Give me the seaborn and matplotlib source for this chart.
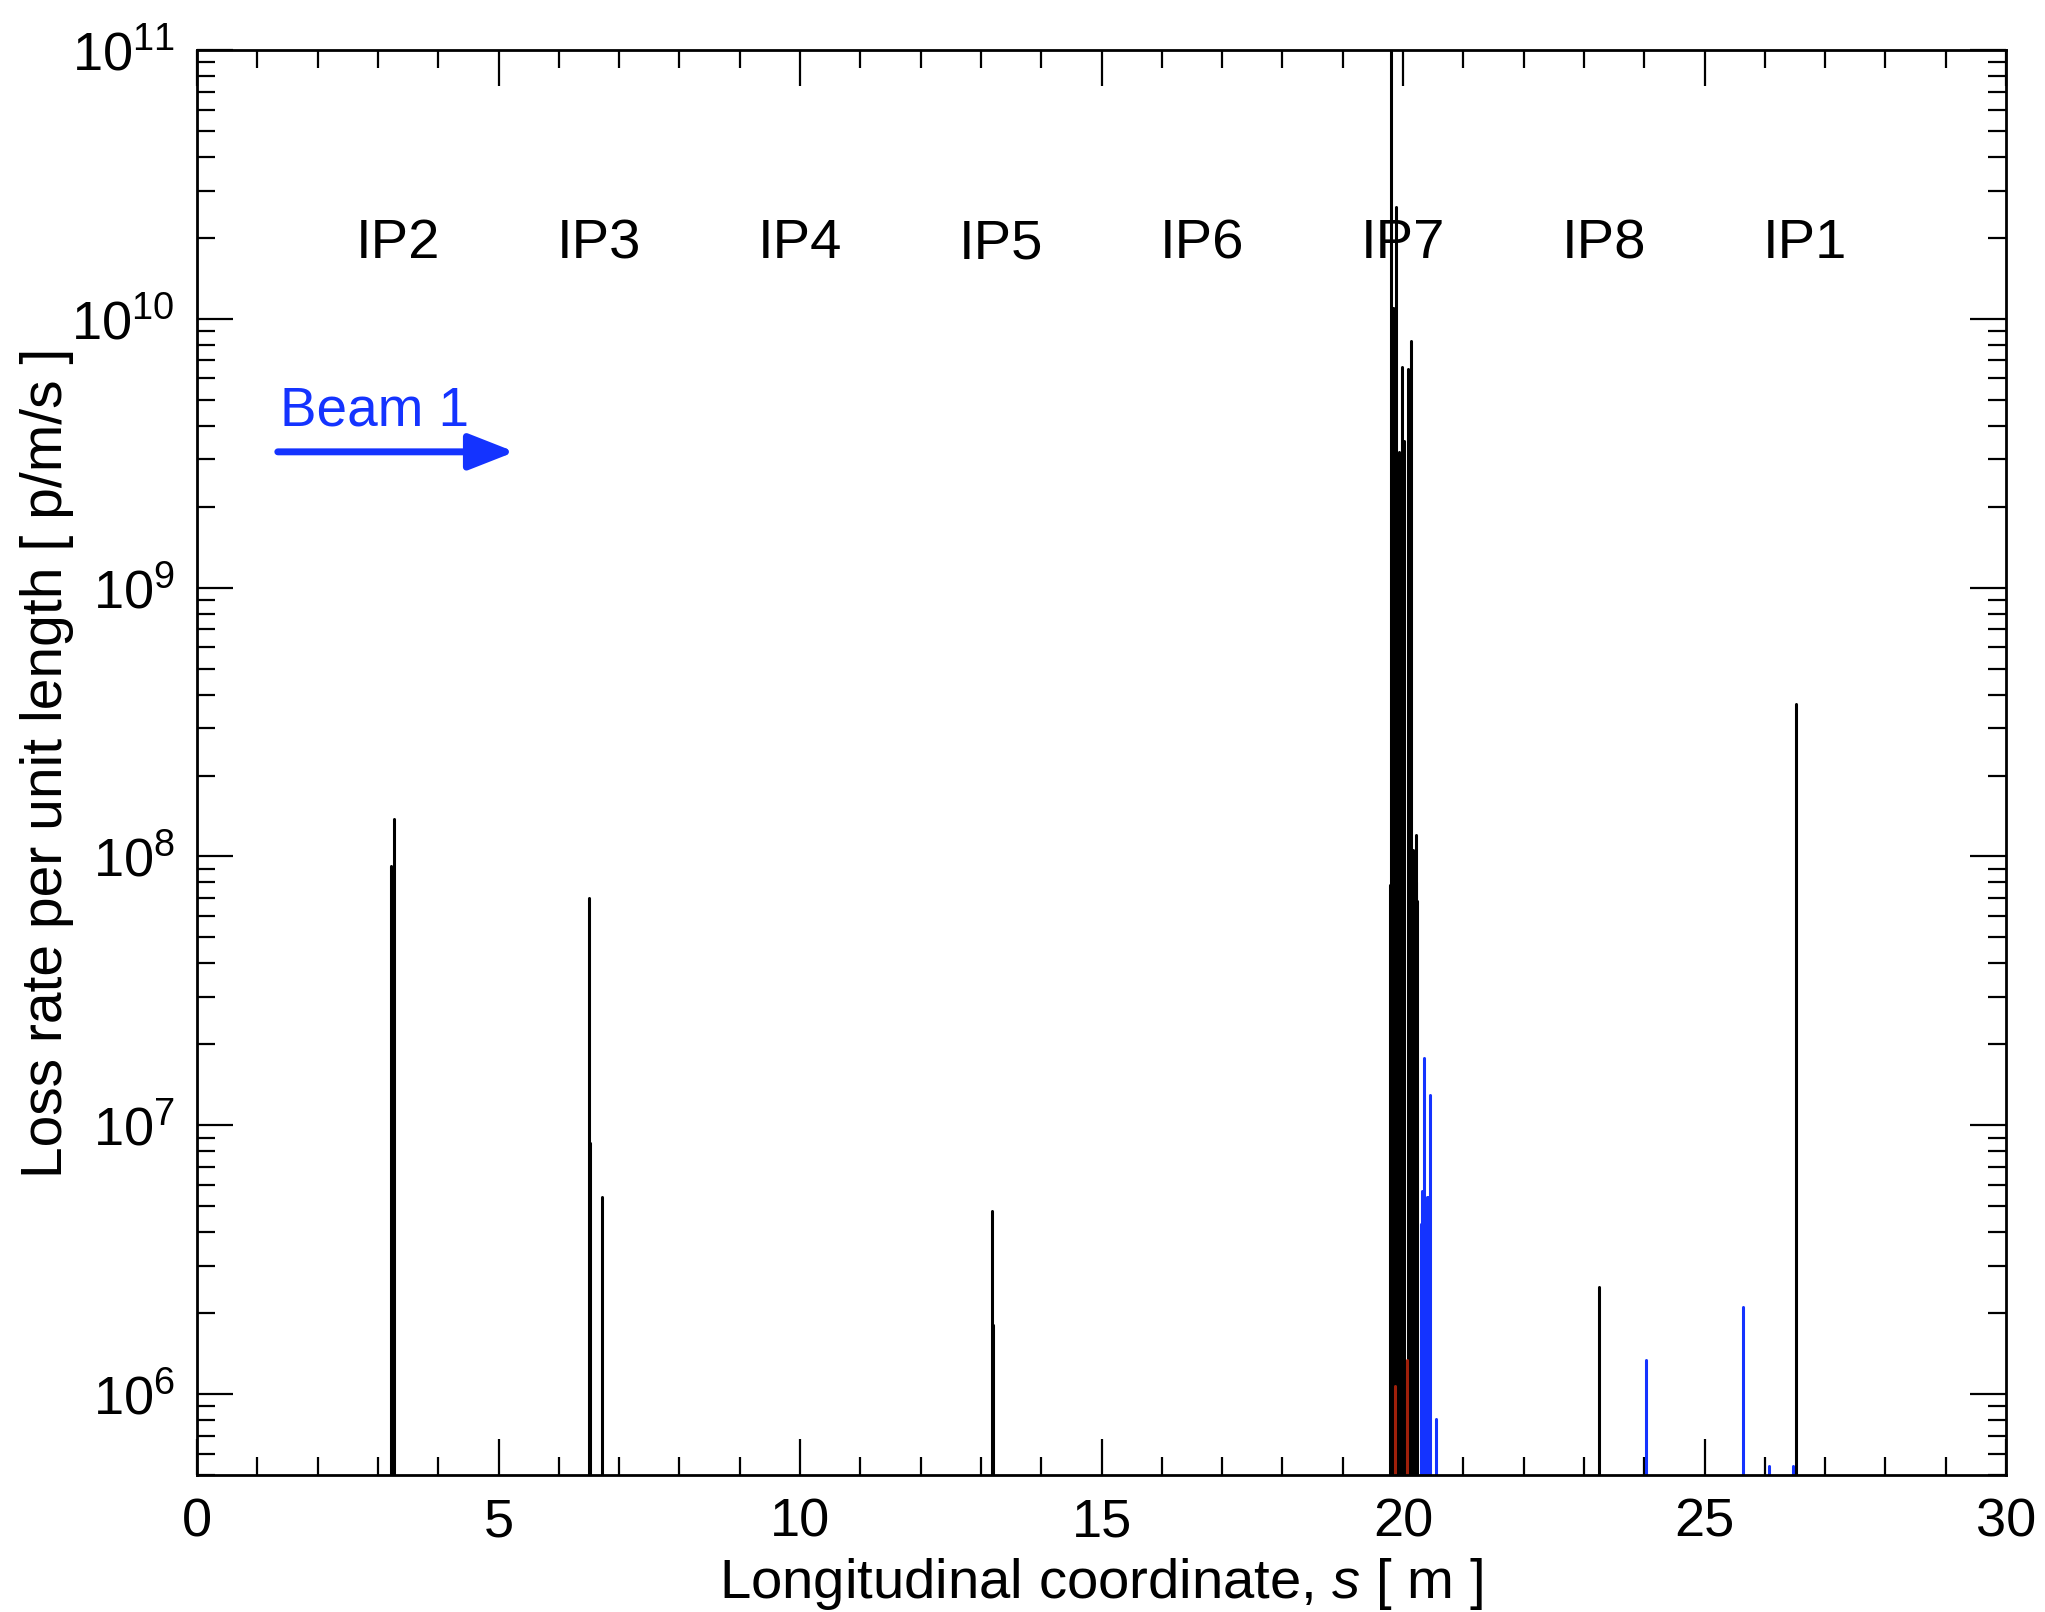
import numpy as np
import pandas as pd
import matplotlib
matplotlib.use("Agg")
import matplotlib.pyplot as plt
import matplotlib.ticker as mticker
import seaborn as sns

# ---------------- data ----------------
black_s = [3.21, 3.26, 6.50, 6.52, 6.72, 13.18, 13.20,
           19.79, 19.80, 19.81, 19.84, 19.87, 19.88, 19.94, 19.98, 20.02,
           20.09, 20.12, 20.14, 20.16, 20.17, 20.19, 20.21, 20.22, 20.24,
           23.25, 26.52]
black_v = [9.2e7, 1.38e8, 7.0e7, 8.6e6, 5.4e6, 4.8e6, 1.8e6,
           7.8e7, 2.0e11, 1.1e10, 1.1e10, 1.1e10, 2.6e10, 3.2e9, 6.6e9, 3.5e9,
           6.5e9, 2.7e9, 8.3e9, 8.0e7, 1.06e8, 8.0e7, 8.0e7, 1.2e8, 6.8e7,
           2.5e6, 3.7e8]
blue_s = [20.30, 20.32, 20.34, 20.37, 20.40, 20.42, 20.44, 20.54,
          24.03, 25.64, 26.07, 26.46]
blue_v = [4.3e6, 5.7e6, 1.78e7, 2.7e6, 5.4e6, 5.4e6, 1.3e7, 8.1e5,
          1.34e6, 2.1e6, 5.4e5, 5.4e5]
red_s = [19.86, 20.06]
red_v = [1.07e6, 1.34e6]

ip_labels = ["IP2", "IP3", "IP4", "IP5", "IP6", "IP7", "IP8", "IP1"]
ip_pos = [10 / 3 * k for k in range(1, 9)]

BLUE = "#1433FF"
BASE = 1e5

rows = []
uid = 0
for grp, ss, vv in (("black", black_s, black_v), ("blue", blue_s, blue_v), ("red", red_s, red_v)):
    for s, v in zip(ss, vv):
        rows.append(dict(s=s, rate=BASE, grp=grp, uid=uid))
        rows.append(dict(s=s, rate=v, grp=grp, uid=uid))
        uid += 1
df = pd.DataFrame(rows)

# ---------------- style ----------------
sns.set_theme(style="white")
plt.rcParams["font.family"] = ["Liberation Sans", "DejaVu Sans"]
plt.rcParams["mathtext.fontset"] = "custom"
plt.rcParams["mathtext.rm"] = "Liberation Sans"
plt.rcParams["mathtext.it"] = "Liberation Sans:italic"
plt.rcParams["mathtext.bf"] = "Liberation Sans:bold"
plt.rcParams["text.color"] = "black"
plt.rcParams["axes.labelcolor"] = "black"
plt.rcParams["xtick.color"] = "black"
plt.rcParams["ytick.color"] = "black"

fig = plt.figure(figsize=(20.45, 16.12), dpi=100)
ax = fig.add_axes([197 / 2045, 1 - 1475 / 1612, (2006 - 197) / 2045, (1475 - 50) / 1612])
ax.set_yscale("log")

sns.lineplot(data=df, x="s", y="rate", hue="grp", units="uid", estimator=None,
             sort=False, palette={"black": "black", "blue": BLUE, "red": "#A0200A"},
             hue_order=["black", "blue", "red"], linewidth=2.2, legend=False, ax=ax)

ax.set_xlim(0, 30)
ax.set_ylim(5e5, 1e11)

ax.xaxis.set_major_locator(mticker.MultipleLocator(5))
ax.xaxis.set_minor_locator(mticker.MultipleLocator(1))
ax.yaxis.set_major_locator(mticker.LogLocator(base=10, numticks=20))
ax.yaxis.set_minor_locator(mticker.LogLocator(base=10, subs=np.arange(2, 10), numticks=20))
ax.yaxis.set_minor_formatter(mticker.NullFormatter())

ax.tick_params(which="both", direction="in", top=True, right=True, bottom=True, left=True,
               width=1.6, colors="black", labelcolor="black")
ax.tick_params(which="major", length=26, labelsize=39, pad=16)
ax.tick_params(which="minor", length=13)
for sp in ax.spines.values():
    sp.set_linewidth(2.0)
    sp.set_color("black")

ax.set_xlabel("Longitudinal coordinate, $s$ [ m ]", fontsize=40.5, labelpad=6, color="black")
ax.set_ylabel("Loss rate per unit length [ p/m/s ]", fontsize=41, labelpad=-2, color="black")

for lab, x in zip(ip_labels, ip_pos):
    ax.text(x, 1.68e10, lab, fontsize=40.5, ha="center", va="baseline", color="black")

ax.text(1.38, 4.0e9, "Beam 1", fontsize=39.5, color=BLUE, ha="left", va="baseline")
ax.annotate("", xy=(5.27, 3.2e9), xytext=(1.34, 3.2e9),
            arrowprops=dict(arrowstyle="-|>,head_length=1.4,head_width=0.55",
                            lw=5, color=BLUE, shrinkA=0, shrinkB=0, mutation_scale=20))

fig.savefig("out.png", dpi=100)
